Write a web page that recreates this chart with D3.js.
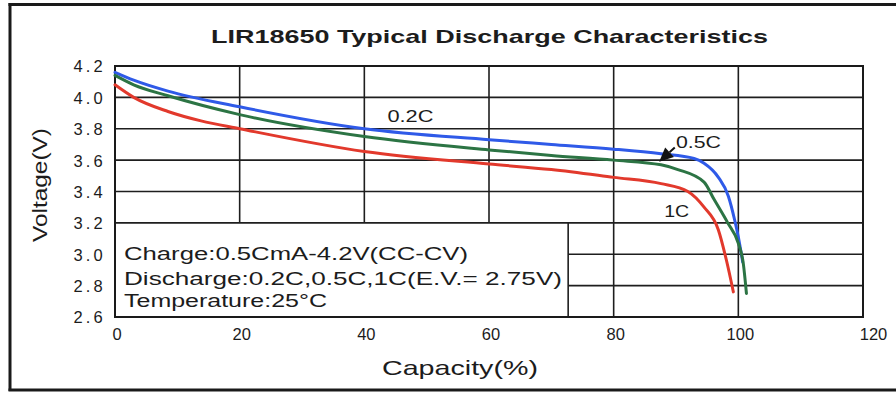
<!DOCTYPE html>
<html>
<head>
<meta charset="utf-8">
<script src="https://cdn.jsdelivr.net/npm/d3@7"></script>
<style>
  html, body { margin: 0; padding: 0; background: #fff; }
  svg { display: block; }
  text { font-family: Arial, "Liberation Sans", sans-serif; fill: #1c1c1c; }
</style>
</head>
<body>
<svg id="chart" width="896" height="393"></svg>
<script>
// Axis ticks
const xTicks = [0, 20, 40, 60, 80, 100, 120];
const yTicks = [2.6, 2.8, 3.0, 3.2, 3.4, 3.6, 3.8, 4.0, 4.2];

// 0.2C discharge: capacity (%) and voltage (V)
const cap02 = [0, 3, 8.5, 20, 40, 60, 70, 80, 87.6, 92.9, 94.5, 96.8, 98.4, 99.4, 100, 100.7];
const volt02 = [4.16, 4.11, 4.04, 3.94, 3.80, 3.73, 3.70, 3.67, 3.64, 3.61, 3.58, 3.49, 3.37, 3.22, 3.11, 2.95];

// 0.5C discharge
const cap05 = [0, 3, 8.5, 20, 40, 60, 70, 80, 87.6, 90.3, 94.5, 96.1, 98.3, 100, 100.8, 101.3];
const volt05 = [4.14, 4.08, 4.01, 3.89, 3.75, 3.665, 3.63, 3.60, 3.57, 3.54, 3.46, 3.35, 3.20, 3.07, 2.94, 2.75];

// 1C discharge
const cap1 = [0, 3, 8.5, 13.8, 20, 40, 60, 70, 80, 87.6, 91.9, 94.5, 96.8, 98.1, 99.2];
const volt1 = [4.08, 4.00, 3.91, 3.85, 3.80, 3.655, 3.575, 3.54, 3.49, 3.45, 3.40, 3.30, 3.155, 2.96, 2.76];

const seriesNames = ["0.2C", "0.5C", "1C"];
const seriesColors = ["#2f5ae8", "#2c7444", "#e2392c"];

const noteLines = [
  "Charge:0.5CmA-4.2V(CC-CV)",
  "Discharge:0.2C,0.5C,1C(E.V.= 2.75V)",
  "Temperature:25°C"
];

const title = "LIR18650 Typical Discharge Characteristics";
const xTitle = "Capacity(%)";
const yTitle = "Voltage(V)";

// ---------------------------------------------------------------
const svg = d3.select("#chart");
const W = 896, H = 393;
const plot = { left: 115, right: 863, top: 66, bottom: 317 };

const x = d3.scaleLinear().domain([0, 120]).range([plot.left, plot.right]);
const y = d3.scaleLinear().domain([2.6, 4.2]).range([plot.bottom, plot.top]);

svg.append("rect").attr("width", W).attr("height", H).attr("fill", "#fff");

// outer frame (left, top, bottom edges)
const frame = svg.append("g").attr("stroke", "#1a1a1a").attr("stroke-width", 3);
frame.append("line").attr("x1", 10).attr("x2", 10).attr("y1", 3).attr("y2", 391);
frame.append("line").attr("x1", 8.5).attr("x2", W).attr("y1", 4.5).attr("y2", 4.5);
frame.append("line").attr("x1", 8.5).attr("x2", W).attr("y1", 390).attr("y2", 390);

// note box occupies the lower-left corner of the grid
const boxRight = 72.7, boxTop = 3.2;

const grid = svg.append("g").attr("stroke", "#1e1e1e").attr("stroke-width", 1.6);
// vertical grid lines
xTicks.filter(d => d > 0 && d < 120).forEach(d => {
  grid.append("line")
    .attr("x1", x(d)).attr("x2", x(d))
    .attr("y1", y(4.2))
    .attr("y2", x(d) < x(boxRight) ? y(boxTop) : y(2.6));
});
// horizontal grid lines
yTicks.filter(d => d > 2.6 && d < 4.2).forEach(d => {
  grid.append("line")
    .attr("x1", d < boxTop - 1e-9 ? x(boxRight) : x(0))
    .attr("x2", x(120))
    .attr("y1", y(d)).attr("y2", y(d));
});
// note box right edge
grid.append("line")
  .attr("x1", x(boxRight)).attr("x2", x(boxRight))
  .attr("y1", y(boxTop)).attr("y2", y(2.6));

// plot border
svg.append("rect")
  .attr("x", x(0)).attr("y", y(4.2))
  .attr("width", x(120) - x(0)).attr("height", y(2.6) - y(4.2))
  .attr("fill", "none").attr("stroke", "#1a1a1a").attr("stroke-width", 2);

// discharge curves
const line = d3.line()
  .x(d => x(d[0])).y(d => y(d[1]))
  .curve(d3.curveMonotoneX);

const curveData = [
  d3.zip(cap02, volt02),
  d3.zip(cap05, volt05),
  d3.zip(cap1, volt1)
];
[0, 1, 2].forEach(i => {
  svg.append("path")
    .datum(curveData[i])
    .attr("d", line)
    .attr("fill", "none")
    .attr("stroke", seriesColors[i])
    .attr("stroke-width", 3)
    .attr("stroke-linecap", "round")
    .attr("stroke-linejoin", "round");
});

// axes
const xAxis = svg.append("g")
  .attr("transform", `translate(0,${plot.bottom})`)
  .call(d3.axisBottom(x).tickValues(xTicks).tickSize(0).tickFormat(d3.format("d")));
xAxis.select(".domain").remove();
xAxis.selectAll("text")
  .attr("y", 23).attr("dy", null)
  .attr("dx", d => d === 120 ? 10 : 1.5)
  .attr("font-size", 16.5).attr("fill", "#1c1c1c")
  .style("font-family", "Arial, 'Liberation Sans', sans-serif");

const yAxis = svg.append("g")
  .attr("transform", `translate(${plot.left},0)`)
  .call(d3.axisLeft(y).tickValues(yTicks).tickSize(0).tickFormat(d3.format(".1f")));
yAxis.select(".domain").remove();
yAxis.selectAll("text")
  .attr("x", -9).attr("dy", "0.36em")
  .attr("font-size", 16.5).attr("letter-spacing", "3.2px").attr("fill", "#1c1c1c")
  .style("font-family", "Arial, 'Liberation Sans', sans-serif");

// title and axis titles
svg.append("text")
  .attr("x", 489.5).attr("y", 43)
  .attr("text-anchor", "middle")
  .attr("font-size", 19).attr("font-weight", "bold")
  .attr("textLength", 557).attr("lengthAdjust", "spacingAndGlyphs")
  .text(title);

svg.append("text")
  .attr("x", 460).attr("y", 375)
  .attr("text-anchor", "middle")
  .attr("font-size", 21)
  .attr("textLength", 156).attr("lengthAdjust", "spacingAndGlyphs")
  .text(xTitle);

svg.append("text")
  .attr("transform", "translate(47,185) rotate(-90)")
  .attr("text-anchor", "middle")
  .attr("font-size", 21)
  .attr("textLength", 114).attr("lengthAdjust", "spacingAndGlyphs")
  .text(yTitle);

// curve labels
const curveLabels = [
  { text: seriesNames[0], cap: 43.7, v: 3.843, len: 46 },
  { text: seriesNames[1], cap: 90.0, v: 3.677, len: 45 },
  { text: seriesNames[2], cap: 88.1, v: 3.238, len: 25 }
];
curveLabels.forEach(l => {
  svg.append("text")
    .attr("x", x(l.cap)).attr("y", y(l.v))
    .attr("font-size", 16)
    .attr("textLength", l.len).attr("lengthAdjust", "spacingAndGlyphs")
    .text(l.text);
});

// arrow pointing at the 0.5C curve
const tail = [x(89.8), y(3.68)], tip = [x(87.3), y(3.59)];
const ang = Math.atan2(tip[1] - tail[1], tip[0] - tail[0]);
const headLen = 14, headHalf = 6.5;
const base = [tip[0] - headLen * Math.cos(ang), tip[1] - headLen * Math.sin(ang)];
svg.append("line")
  .attr("x1", tail[0]).attr("y1", tail[1])
  .attr("x2", base[0]).attr("y2", base[1])
  .attr("stroke", "#111").attr("stroke-width", 2);
svg.append("polygon")
  .attr("points", [
    tip,
    [base[0] + headHalf * Math.sin(ang), base[1] - headHalf * Math.cos(ang)],
    [base[0] - headHalf * Math.sin(ang), base[1] + headHalf * Math.cos(ang)]
  ].map(p => p.join(",")).join(" "))
  .attr("fill", "#111");

// test conditions inside the note box
const noteLens = [344, 438, 203];
const noteBaselines = [259.5, 285, 307];
noteLines.forEach((t, i) => {
  svg.append("text")
    .attr("x", x(0) + 9).attr("y", noteBaselines[i])
    .attr("font-size", 17.5)
    .attr("textLength", noteLens[i]).attr("lengthAdjust", "spacingAndGlyphs")
    .text(t);
});
</script>
</body>
</html>
